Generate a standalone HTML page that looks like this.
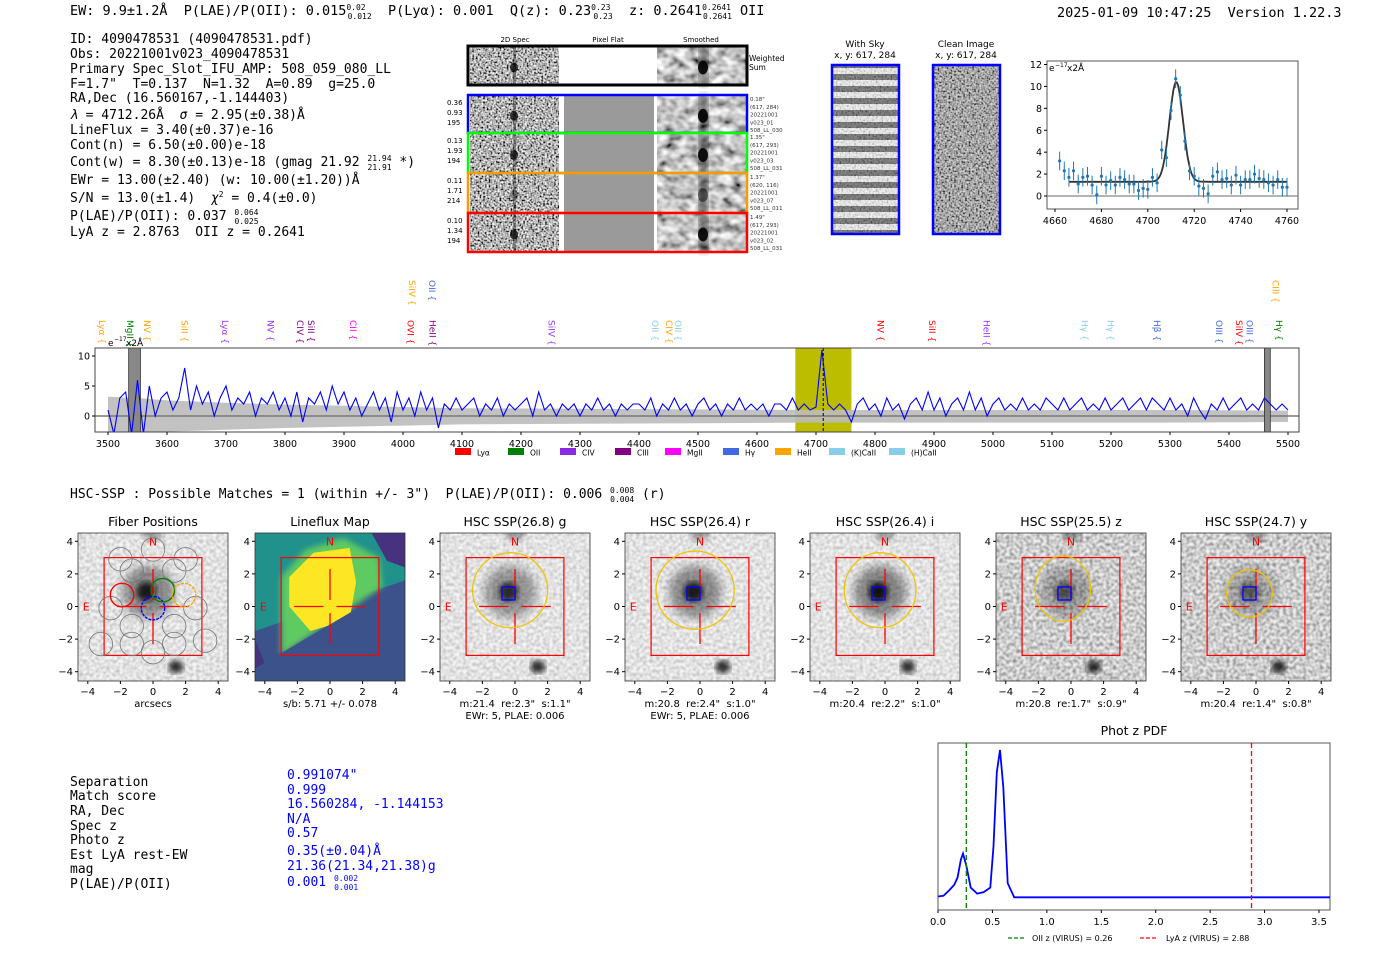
<!DOCTYPE html>
<html><head><meta charset="utf-8">
<style>
html,body{margin:0;padding:0;background:#fff;}
svg{display:block;}
text{font-family:"DejaVu Sans","Liberation Sans",sans-serif;white-space:pre;}
.mono{font-family:"DejaVu Sans Mono","Liberation Mono",monospace;}
</style></head>
<body>
<svg id="fig" width="1400" height="953" viewBox="0 0 1400 953" xmlns="http://www.w3.org/2000/svg" xml:space="preserve">
<defs>
<filter id="noise" x="0" y="0" width="100%" height="100%">
<feTurbulence type="fractalNoise" baseFrequency="0.55" numOctaves="1" seed="3"/>
<feColorMatrix type="matrix" values="2.2 0 0 0 -0.65  2.2 0 0 0 -0.65  2.2 0 0 0 -0.65  0 0 0 0 1"/>
</filter>
<filter id="noiseSoft" x="0" y="0" width="100%" height="100%">
<feTurbulence type="fractalNoise" baseFrequency="0.09 0.12" numOctaves="2" seed="7"/>
<feColorMatrix type="matrix" values="1.6 0 0 0 -0.25  1.6 0 0 0 -0.25  1.6 0 0 0 -0.25  0 0 0 0 1"/>
</filter>
<filter id="noiseLight" x="0" y="0" width="100%" height="100%">
<feTurbulence type="fractalNoise" baseFrequency="0.3" numOctaves="1" seed="11"/>
<feColorMatrix type="matrix" values="0.9 0 0 0 0.35  0.9 0 0 0 0.35  0.9 0 0 0 0.35  0 0 0 0 1"/>
</filter>
<filter id="noiseMid" x="0" y="0" width="100%" height="100%">
<feTurbulence type="fractalNoise" baseFrequency="0.3" numOctaves="1" seed="5"/>
<feColorMatrix type="matrix" values="1.3 0 0 0 0.0  1.3 0 0 0 0.0  1.3 0 0 0 0.0  0 0 0 0 1"/>
</filter>
<filter id="blur2"><feGaussianBlur stdDeviation="3"/></filter>
<filter id="blur4"><feGaussianBlur stdDeviation="5"/></filter>
<pattern id="stripes" width="68" height="12" patternUnits="userSpaceOnUse">
<rect width="68" height="12" fill="#f2f2f2"/><rect y="2" width="68" height="6" fill="#666"/>
</pattern>
</defs>

<g class="mono" font-size="13.5" fill="#000">
<text x="70" y="15" class="mono">EW: 9.9±1.2Å  P(LAE)/P(OII): 0.015<tspan font-size="8" dy="-5">0.02</tspan><tspan font-size="8" dx="-18" dy="9">0.012</tspan><tspan dy="-4">  P(Lyα): 0.001  Q(z): 0.23</tspan><tspan font-size="8" dy="-5">0.23</tspan><tspan font-size="8" dx="-17" dy="9">0.23</tspan><tspan dy="-4">  z: 0.2641</tspan><tspan font-size="8" dy="-5">0.2641</tspan><tspan font-size="8" dx="-28" dy="9">0.2641</tspan><tspan dy="-4"> OII</tspan></text>
<text x="1057" y="17" class="mono">2025-01-09 10:47:25  Version 1.22.3</text>
</g>

<g class="mono" font-size="13" fill="#000">
<text x="70" y="43" class="mono">ID: 4090478531 (4090478531.pdf)</text>
<text x="70" y="58" class="mono">Obs: 20221001v023_4090478531</text>
<text x="70" y="73" class="mono">Primary Spec_Slot_IFU_AMP: 508_059_080_LL</text>
<text x="70" y="88" class="mono">F=1.7"  T=0.137  N=1.32  A=0.89  g=25.0</text>
<text x="70" y="102" class="mono">RA,Dec (16.560167,-1.144403)</text>
<text x="70" y="119" class="mono"><tspan font-style="italic">λ</tspan> = 4712.26Å  <tspan font-style="italic">σ</tspan> = 2.95(±0.38)Å</text>
<text x="70" y="134" class="mono">LineFlux = 3.40(±0.37)e-16</text>
<text x="70" y="149" class="mono">Cont(n) = 6.50(±0.00)e-18</text>
<text x="70" y="166" class="mono">Cont(w) = 8.30(±0.13)e-18 (gmag 21.92 <tspan font-size="8" dy="-5">21.94</tspan><tspan font-size="8" dx="-24" dy="9">21.91</tspan><tspan dy="-4"> *)</tspan></text>
<text x="70" y="184" class="mono">EWr = 13.00(±2.40) (w: 10.00(±1.20))Å</text>
<text x="70" y="202" class="mono">S/N = 13.0(±1.4)  <tspan font-style="italic">χ</tspan><tspan font-size="8" dy="-5">2</tspan><tspan dy="5"> = 0.4(±0.0)</tspan></text>
<text x="70" y="220" class="mono">P(LAE)/P(OII): 0.037 <tspan font-size="8" dy="-5">0.064</tspan><tspan font-size="8" dx="-24" dy="9">0.025</tspan></text>
<text x="70" y="236" class="mono">LyA z = 2.8763  OII z = 0.2641</text>
</g>

<g id="cutouts">
<text x="515" y="42" font-size="7" text-anchor="middle">2D Spec</text>
<text x="608" y="42" font-size="7" text-anchor="middle">Pixel Flat</text>
<text x="701" y="42" font-size="7" text-anchor="middle">Smoothed</text>
</g>

<g>
<text x="865" y="47" font-size="9" text-anchor="middle">With Sky</text>
<text x="865" y="58" font-size="9" text-anchor="middle">x, y: 617, 284</text>
<rect x="832" y="65" width="67" height="169" fill="url(#stripes)"/>
<rect x="832" y="65" width="67" height="169" filter="url(#noise)" opacity="0.25"/>
<rect x="832" y="65" width="67" height="169" fill="none" stroke="#00f" stroke-width="2.5"/>
<text x="966" y="47" font-size="9" text-anchor="middle">Clean Image</text>
<text x="966" y="58" font-size="9" text-anchor="middle">x, y: 617, 284</text>
<rect x="933" y="65" width="67" height="169" filter="url(#noise)"/>
<rect x="933" y="65" width="67" height="169" fill="#888" opacity="0.3"/>
<rect x="933" y="65" width="67" height="169" fill="none" stroke="#00f" stroke-width="2.5"/>
</g>

<g id="inset"></g>
<g id="spectrum"></g>

<text x="70" y="498" class="mono" font-size="13">HSC-SSP : Possible Matches = 1 (within +/- 3")  P(LAE)/P(OII): 0.006 <tspan font-size="8" dy="-5">0.008</tspan><tspan font-size="8" dx="-24" dy="9">0.004</tspan><tspan dy="-4"> (r)</tspan></text>

<g id="panels"></g>

<g class="mono" font-size="13">
<g fill="#000">
<text x="70" y="786" class="mono">Separation</text>
<text x="70" y="800" class="mono">Match score</text>
<text x="70" y="815" class="mono">RA, Dec</text>
<text x="70" y="830" class="mono">Spec z</text>
<text x="70" y="844" class="mono">Photo z</text>
<text x="70" y="859" class="mono">Est LyA rest-EW</text>
<text x="70" y="873" class="mono">mag</text>
<text x="70" y="888" class="mono">P(LAE)/P(OII)</text>
</g>
<g fill="#00f">
<text x="287" y="779" class="mono">0.991074"</text>
<text x="287" y="794" class="mono">0.999</text>
<text x="287" y="808" class="mono">16.560284, -1.144153</text>
<text x="287" y="823" class="mono">N/A</text>
<text x="287" y="837" class="mono">0.57</text>
<text x="287" y="855" class="mono">0.35(±0.04)Å</text>
<text x="287" y="870" class="mono">21.36(21.34,21.38)g</text>
<text x="287" y="886" class="mono">0.001 <tspan font-size="8" dy="-5">0.002</tspan><tspan font-size="8" dx="-24" dy="9">0.001</tspan></text>
</g>
</g>

<g id="pdf"></g>
</svg>

<script>
const specStart = 3500, specStep = 10;
const specFlux = [
1,-3,3,4,-3,6,-3,5,0,3,
4,1,3,8,1,5,2,4,0,3,
5,1,3,2,4,0,3,2,4,1,
3,0,4,-1,3,2,4,1,5,2,
4,1,3,0,2,4,1,3,-1,4,
1,3,0,4,1,3,-2,2,1,3,
1,2,3,0,2,1,3,0,2,1,
2,3,0,4,1,2,0,2,1,2,
0,2,1,3,1,2,0,2,1,2,
2,1,3,0,2,1,3,1,2,0,
2,3,1,2,0,2,1,3,1,2,
1,2,0,2,2,1,3,1,2,1,
1.5,11,2,1,2,1,-1,2,3,1,
2,0,3,1,2,-0.5,2,3,1,4,
1,3,0,2,3,1,4,1,3,0,
2,3,1,2,1,3,1,2,1,3,
2,1,3,1,2,3,1,2,1,3,
1,2,3,1,2,3,1,3,2,1,
3,1,2,0,3,1,-0.5,2,1,3,
1,2,3,1,2,1,3,2,1,2,
1];
const errWave = [3500,3550,3600,3700,3800,3900,4000,4100,4300,4500,4700,5000,5300,5500];
const errHi = [3.2,3.0,2.6,2.2,1.9,1.7,1.5,1.3,1.2,1.1,1.0,1.0,1.0,0.9];
const errLo = [-2.8,-2.8,-2.6,-2.3,-2.0,-1.8,-1.6,-1.4,-1.3,-1.2,-1.1,-1.1,-1.1,-1.0];
const specXTicks = [3500,3600,3700,3800,3900,4000,4100,4200,4300,4400,4500,4600,4700,4800,4900,5000,5100,5200,5300,5400,5500];
const specYTicks = [0,5,10];
const lineNames = ["Lyα","MgII","NV","SiII","Lyα","NV","CIV","SiII","CII","OVI","HeII","SiIV","OII","CIV","OII","NV","SiII","HeII","Hγ","Hγ","Hβ","OIII","SiIV","OIII","Hγ","SiIV","OII","CIII"];
const lineWaves = [3490,3537,3566,3630,3698,3775,3825,3844,3915,4013,4050,4252,4427,4451,4466,4809,4897,4989,5155,5199,5278,5383,5417,5435,5485,4015,4049,5479];
const lineColors = ["orange","green","orange","orange","#9933ff","#9933ff","purple","purple","magenta","red","purple","#9933ff","skyblue","orange","skyblue","red","red","#9933ff","skyblue","skyblue","royalblue","royalblue","red","royalblue","green","orange","royalblue","orange"];
const lineHigh = [0,0,0,0,0,0,0,0,0,0,0,0,0,0,0,0,0,0,0,0,0,0,0,0,0,1,1,1];
const legendNames = ["Lyα","OII","CIV","CIII","MgII","Hγ","HeII","(K)CaII","(H)CaII"];
const legendColors = ["red","green","blueviolet","purple","magenta","royalblue","orange","skyblue","skyblue"];
const insetWave = [];
for (let w = 4662; w <= 4760; w += 2) insetWave.push(w);
const insetFlux = [3.2,2.3,1.7,2.3,1.1,1.7,1.8,1.0,0.1,1.8,1.0,1.4,1.0,1.7,1.5,1.1,1.1,0.5,0.7,0.6,1.7,1.2,4.2,3.5,7.8,10.7,9.2,5.0,2.3,1.8,0.9,0.7,0.2,1.8,2.2,1.5,1.6,1.0,1.9,1.0,1.5,1.5,2.0,1.6,1.5,1.2,1.0,1.5,0.8,0.8];
const insetErr = 0.85;
const fitCont = 1.3, fitAmp = 9.1, fitMu = 4712.26, fitSigma = 2.95;
const insetXTicks = [4660,4680,4700,4720,4740,4760];
const insetYTicks = [0,2,4,6,8,10,12];
const pdfZ = [0,0.05,0.1,0.15,0.18,0.21,0.23,0.26,0.3,0.36,0.42,0.48,0.51,0.54,0.57,0.6,0.64,0.7,1.0,2.0,3.6];
const pdfP = [0.01,0.015,0.05,0.09,0.14,0.26,0.3,0.22,0.07,0.03,0.04,0.07,0.35,0.85,1.0,0.75,0.1,0.005,0.005,0.005,0.005];
const pdfXTicks = [0,0.5,1.0,1.5,2.0,2.5,3.0,3.5];
const zOII = 0.26, zLyA = 2.88;
const panelTitles = ["Fiber Positions","Lineflux Map","HSC SSP(26.8) g","HSC SSP(26.4) r","HSC SSP(26.4) i","HSC SSP(25.5) z","HSC SSP(24.7) y"];
const panelX = [78,255,440,625,810,996,1181];
const panelCap1 = ["arcsecs","s/b: 5.71 +/- 0.078","m:21.4  re:2.3\"  s:1.1\"","m:20.8  re:2.4\"  s:1.0\"","m:20.4  re:2.2\"  s:1.0\"","m:20.8  re:1.7\"  s:0.9\"","m:20.4  re:1.4\"  s:0.8\""];
const panelCap2 = ["","","EWr: 5, PLAE: 0.006","EWr: 5, PLAE: 0.006","","",""];
const ellRx = [0,0,2.3,2.4,2.2,1.7,1.4];
const ellRy = [0,0,2.3,2.4,2.3,2.0,1.45];
const ellCy = [0,0,1.0,1.0,1.0,1.1,0.8];
const ellCx = [0,0,-0.3,-0.3,-0.3,-0.5,-0.4];
const galDark = [0,0,0.7,0.8,0.85,0.5,0.45];
const tickVals = [-4,-2,0,2,4];
const fibX = [0,-1.3,1.3,-2.6,2.6,-1.3,1.3,-3.2,3.2,0,-2,2,-0.6,0.6,-1.9,1.9,-1.3,1.3,0];
const fibY = [-0.1,-2.3,-2.3,-0.1,-0.1,2.2,2.2,-2.3,-2.1,-2.8,2.9,2.9,1.0,1.0,0.7,0.7,-1.2,-1.2,3.5];
const fibCol = ["blue","#777","#777","#777","#777","#777","#777","#777","#777","#777","#777","#777","#777","green","red","orange","#777","#777","#777"];

const NS = "http://www.w3.org/2000/svg";
function el(tag, attrs, parent){ const e=document.createElementNS(NS,tag); for(const k in attrs) e.setAttribute(k,attrs[k]); parent.appendChild(e); return e; }
function txt(s, attrs, parent){ const e=el("text",attrs,parent); e.textContent=s; return e; }

(function(){
  const g=document.getElementById("cutouts");
  const rows=[{y:46,h:39,c:"#000",top:true},{y:95,h:38,c:"#00f"},{y:133,h:40,c:"#0f0"},{y:173,h:40,c:"#f90"},{y:213,h:39,c:"red"}];
  const leftLab=[[],["0.36","0.93","195"],["0.13","1.93","194"],["0.11","1.71","214"],["0.10","1.34","194"]];
  const rightLab=[[],["0.18\"","(617, 284)","20221001","v023_01","508_LL_030"],["1.35\"","(617, 293)","20221001","v023_03","508_LL_031"],["1.37\"","(620, 116)","20221001","v023_07","508_LL_011"],["1.49\"","(617, 293)","20221001","v023_02","508_LL_031"]];
  rows.forEach((r,i)=>{
    const row=el("g",{},g);
    
    
    el("rect",{x:470,y:r.y,width:89,height:r.h,filter:"url(#noise)"},row);
    el("ellipse",{cx:514,cy:r.y+r.h*0.55,rx:4,ry:5,fill:"#000",opacity:i===3?0.3:0.75},row);
    el("rect",{x:513,y:r.y,width:3,height:r.h,fill:"#000",opacity:0.35},row);
    if(!r.top) el("rect",{x:564,y:r.y,width:90,height:r.h,fill:"#9a9a9a"},row);
    el("rect",{x:657,y:r.y,width:89,height:r.h,filter:"url(#noiseSoft)"},row);
    el("rect",{x:699,y:r.y,width:9,height:r.h,fill:"#222",opacity:0.55,filter:"url(#blur2)"},row);
    el("ellipse",{cx:703,cy:r.y+r.h*0.55,rx:5,ry:7,fill:"#000",opacity:i===3?0.5:0.9},row);
    el("rect",{x:468,y:r.y,width:279,height:r.h,fill:"none",stroke:r.c,"stroke-width":r.top?3:2.5},row);
    leftLab[i].forEach((s,k)=>txt(s,{x:447,y:r.y+10+k*10,"font-size":7},row));
    rightLab[i].forEach((s,k)=>txt(s,{x:750,y:r.y+6+k*7.8,"font-size":5.5,fill:"#333"},row));
  });
  txt("Weighted",{x:749,y:61,"font-size":7.5},g);
  txt("Sum",{x:749,y:70,"font-size":7.5},g);
})();

(function(){
  const g=document.getElementById("inset");
  const L=1047,R=1298,T=61,B=209;
  const sx=w=>1055+(w-4660)*(1287-1055)/100;
  const sy=v=>196-v*(196-64.5)/12;
  el("rect",{x:L,y:T,width:R-L,height:B-T,fill:"#fff",stroke:"#555","stroke-width":1},g);
  el("line",{x1:L,x2:R,y1:sy(0),y2:sy(0),stroke:"#888","stroke-width":1.2},g);
  insetXTicks.forEach(t=>{ el("line",{x1:sx(t),x2:sx(t),y1:B,y2:B+3,stroke:"#000"},g); txt(String(t),{x:sx(t),y:B+15,"font-size":9.5,"text-anchor":"middle"},g); });
  insetYTicks.forEach(t=>{ el("line",{x1:L-3,x2:L,y1:sy(t),y2:sy(t),stroke:"#000"},g); txt(String(t),{x:L-5,y:sy(t)+3.5,"font-size":9.5,"text-anchor":"end"},g); });
  txt("e",{x:L+2,y:T+10,"font-size":9},g);
  txt("−17",{x:L+8,y:T+6,"font-size":6},g);
  txt("x2Å",{x:L+20,y:T+10,"font-size":9},g);
  let d="";
  for(let w=4666;w<=4760;w+=0.5){ const v=fitCont+fitAmp*Math.exp(-0.5*Math.pow((w-fitMu)/fitSigma,2)); d+=(d?"L":"M")+sx(w).toFixed(1)+","+sy(v).toFixed(1); }
  const fit=el("path",{d:d,fill:"none",stroke:"#333","stroke-width":1.8},g);
  
  
  insetWave.forEach((w,i)=>{
    const v=insetFlux[i];
    const eb=el("line",{x1:sx(w),x2:sx(w),y1:sy(v-insetErr),y2:sy(v+insetErr),stroke:"#1f77b4","stroke-width":1},g);
    
    
    const p=el("circle",{cx:sx(w),cy:sy(v),r:1.6,fill:"#1f77b4"},g);
    
    
  });
})();

(function(){
  const g=document.getElementById("spectrum");
  const L=95,R=1299,T=348,B=432;
  const sx=w=>108+(w-3500)*0.59;
  const sy=v=>416-v*6;
  el("rect",{x:L,y:T,width:R-L,height:B-T,fill:"#fff"},g);
  const band=el("rect",{x:sx(4665),y:T,width:sx(4760)-sx(4665),height:B-T,fill:"#bcbc00"},g);
  
  
  let top="",bot="";
  errWave.forEach((w,i)=>{ top+=(i?"L":"M")+sx(w)+","+Math.min(B,sy(errHi[i])); });
  for(let i=errWave.length-1;i>=0;i--) bot+="L"+sx(errWave[i])+","+Math.min(B,sy(errLo[i]));
  const env=el("path",{d:top+bot+"Z",fill:"#bbb",opacity:0.9},g);
  
  
  el("line",{x1:L,x2:R,y1:sy(0),y2:sy(0),stroke:"#777","stroke-width":1.5},g);
  [[3535,3555],[5460,5470]].forEach(m=>{ const r=el("rect",{x:sx(m[0]),y:T,width:sx(m[1])-sx(m[0]),height:B-T,fill:"#888",stroke:"#333","stroke-width":0.8},g);   });
  const cp=el("clipPath",{id:"specclip"},g); el("rect",{x:L,y:T,width:R-L,height:B-T},cp);
  let d="";
  specFlux.forEach((v,i)=>{ const w=specStart+i*specStep; d+=(i?"L":"M")+sx(w).toFixed(1)+","+sy(v).toFixed(1); });
  const ln=el("path",{d:d,fill:"none",stroke:"#0000ff","stroke-width":1.1,"clip-path":"url(#specclip)"},g);
  
  
  el("line",{x1:sx(4712.26),x2:sx(4712.26),y1:T,y2:B,stroke:"#000","stroke-width":1,"stroke-dasharray":"3,2"},g);
  el("rect",{x:L,y:T,width:R-L,height:B-T,fill:"none",stroke:"#444","stroke-width":1},g);
  specXTicks.forEach(t=>{ el("line",{x1:sx(t),x2:sx(t),y1:B,y2:B+3,stroke:"#000"},g); txt(String(t),{x:sx(t),y:B+15,"font-size":9.5,"text-anchor":"middle"},g); });
  specYTicks.forEach(t=>{ el("line",{x1:L-3,x2:L,y1:sy(t),y2:sy(t),stroke:"#000"},g); txt(String(t),{x:L-5,y:sy(t)+3.5,"font-size":9.5,"text-anchor":"end"},g); });
  txt("e",{x:108,y:346,"font-size":9},g); txt("−17",{x:114,y:341,"font-size":6},g); txt("x2Å",{x:126,y:346,"font-size":9},g);
  lineNames.forEach((n,i)=>{
    const x=sx(lineWaves[i]); const y0=lineHigh[i]?280:320;
    const t=txt(n+" {",{x:0,y:0,"font-size":9,fill:lineColors[i],transform:"translate("+(x-3)+","+y0+") rotate(90)"},g);
    
    
  });
  const lx=[455,508,560,615,665,723,775,829,889];
  legendNames.forEach((n,i)=>{
    const r=el("rect",{x:lx[i],y:448,width:16,height:7,fill:legendColors[i]},g);
    
    
    txt(n,{x:lx[i]+22,y:455.5,"font-size":7.5},g);
  });
})();

(function(){
  const g=document.getElementById("panels");
  const T=533,H=148,W=150;
  panelX.forEach((x0,i)=>{
    const pg=el("g",{},g);
    
    
    const cx=x0+75, cy=606.5, k=16.3;
    const sx=v=>cx+v*k, sy=v=>cy-v*k;
    txt(panelTitles[i],{x:cx,y:526,"font-size":12.5,"text-anchor":"middle"},pg);
    const cp=el("clipPath",{id:"pc"+i},pg); el("rect",{x:x0,y:T,width:W,height:H},cp);
    const ig=el("g",{"clip-path":"url(#pc"+i+")"},pg);
    if(i===1){
      el("rect",{x:x0,y:T,width:W,height:H,fill:"#3b528b"},ig);
      el("polygon",{points:[[sx(-4.6),sy(-1.5)],[sx(-4.6),sy(4.6)],[sx(4.6),sy(4.6)],[sx(4.6),sy(1.6)]].join(" "),fill:"#21918c"},ig);
      el("polygon",{points:[[sx(-4.6),sy(-2)],[sx(-4.6),sy(-4)],[sx(-3.8),sy(-4)]].join(" "),fill:"#46327e"},ig);
      el("polygon",{points:[[sx(2.5),sy(4.6)],[sx(4.6),sy(4.6)],[sx(4.6),sy(2.4)],[sx(3.5),sy(2.8)]].join(" "),fill:"#46327e"},ig);
      el("polygon",{points:[[sx(-3),sy(0.2)],[sx(-3),sy(1.8)],[sx(-1.5),sy(3.5)],[sx(0.8),sy(4.2)],[sx(3),sy(3)],[sx(3.2),sy(1.2)],[sx(-3),sy(-3)]].join(" "),fill:"#5ec962",filter:"url(#blur2)"},ig);
      el("polygon",{points:[[sx(-2.5),sy(1.8)],[sx(-1),sy(3.3)],[sx(1.2),sy(3.6)],[sx(1.6),sy(1.5)],[sx(1.2),sy(-0.8)],[sx(-1.2),sy(-1.5)],[sx(-2.5),sy(0)]].join(" "),fill:"#fde725"},ig);
      el("polygon",{points:[[sx(-4.6),sy(-4.6)],[sx(-4.6),sy(-3.8)],[sx(4.6),sy(1.6)],[sx(4.6),sy(-4.6)]].join(" "),fill:"#3b528b"},ig);
    } else {
      const dark = i>=5;
      el("rect",{x:x0,y:T,width:W,height:H,fill:dark?"#999":"#d0d0d0"},ig);
      el("rect",{x:x0,y:T,width:W,height:H,filter:dark?"url(#noiseMid)":"url(#noiseLight)",opacity:dark?0.9:0.8},ig);
      const gd=i===0?0.8:galDark[i];
      el("ellipse",{cx:sx(-0.3),cy:sy(0.9),rx:k*1.6,ry:k*1.6,fill:"#000",opacity:gd*0.5,filter:"url(#blur4)"},ig);
      el("ellipse",{cx:sx(-0.4),cy:sy(0.9),rx:k*0.6,ry:k*0.6,fill:"#000",opacity:gd,filter:"url(#blur2)"},ig);
      el("ellipse",{cx:sx(1.4),cy:sy(-3.7),rx:k*0.45,ry:k*0.4,fill:"#000",opacity:0.8,filter:"url(#blur2)"},ig);
      el("ellipse",{cx:sx(0),cy:sy(4.4),rx:k*0.6,ry:k*0.4,fill:"#000",opacity:0.3,filter:"url(#blur2)"},ig);
    }
    el("rect",{x:sx(-3),y:sy(3),width:6*k,height:6*k,fill:"none",stroke:"red","stroke-width":1.2},pg);
    [[-2.2,0,-0.4,0],[0.4,0,2.2,0],[0,2.3,0,0.4],[0,-0.4,0,-2.3]].forEach(s=>el("line",{x1:sx(s[0]),y1:sy(s[1]),x2:sx(s[2]),y2:sy(s[3]),stroke:"red","stroke-width":1.3},pg));
    txt("N",{x:sx(0),y:sy(4)+4,"font-size":11,fill:"red","text-anchor":"middle"},pg);
    txt("E",{x:sx(-4.1),y:sy(0)+4,"font-size":11,fill:"red","text-anchor":"middle"},pg);
    if(i===0){
      fibX.forEach((fx,j)=>{
        const c=el("circle",{cx:sx(fx),cy:sy(fibY[j]),r:k*0.72,fill:"none",stroke:fibCol[j],"stroke-width":fibCol[j]==="#777"?0.8:1.4,"stroke-dasharray":fibCol[j]==="blue"||fibCol[j]==="orange"?"3,1":"none"},pg);
        
        
      });
    }
    if(i>=2){
      const e=el("ellipse",{cx:sx(ellCx[i]),cy:sy(ellCy[i]),rx:ellRx[i]*k,ry:ellRy[i]*k,fill:"none",stroke:"#f0c400","stroke-width":1.3},pg);
      
      
      el("rect",{x:sx(-0.8),y:sy(1.2),width:0.8*k,height:0.8*k,fill:"none",stroke:"#00f","stroke-width":1.3},pg);
    }
    el("rect",{x:x0,y:T,width:W,height:H,fill:"none",stroke:"#333","stroke-width":0.8},pg);
    tickVals.forEach(t=>{
      el("line",{x1:sx(t),x2:sx(t),y1:T+H,y2:T+H+3,stroke:"#000"},pg);
      txt(String(t).replace("-","−"),{x:sx(t),y:T+H+14,"font-size":10,"text-anchor":"middle"},pg);
      el("line",{x1:x0-3,x2:x0,y1:sy(t),y2:sy(t),stroke:"#000"},pg);
      txt(String(t).replace("-","−"),{x:x0-5,y:sy(t)+3.5,"font-size":10,"text-anchor":"end"},pg);
    });
    txt(panelCap1[i],{x:cx,y:707,"font-size":10,"text-anchor":"middle"},pg);
    if(panelCap2[i]) txt(panelCap2[i],{x:cx,y:719,"font-size":10,"text-anchor":"middle"},pg);
  });
})();

(function(){
  const g=document.getElementById("pdf");
  const L=938,R=1330,T=743,B=910;
  const sx=z=>938+z*(1319-938)/3.5;
  const sy=p=>898-p*(898-750);
  txt("Phot z PDF",{x:(L+R)/2,y:735,"font-size":12.5,"text-anchor":"middle"},g);
  el("rect",{x:L,y:T,width:R-L,height:B-T,fill:"#fff",stroke:"#555","stroke-width":1},g);
  let d="";
  pdfZ.forEach((z,i)=>{ d+=(i?"L":"M")+sx(z).toFixed(1)+","+sy(pdfP[i]).toFixed(1); });
  const c=el("path",{d:d,fill:"none",stroke:"#0000ff","stroke-width":1.8},g);
  
  
  const l1=el("line",{x1:sx(zOII),x2:sx(zOII),y1:T,y2:B,stroke:"green","stroke-width":1.3,"stroke-dasharray":"5,3"},g);
  
  
  const l2=el("line",{x1:sx(zLyA),x2:sx(zLyA),y1:T,y2:B,stroke:"red","stroke-width":1.3,"stroke-dasharray":"5,3"},g);
  
  
  pdfXTicks.forEach(t=>{ el("line",{x1:sx(t),x2:sx(t),y1:B,y2:B+3,stroke:"#000"},g); txt(t.toFixed(1),{x:sx(t),y:B+15,"font-size":10,"text-anchor":"middle"},g); });
  el("line",{x1:1008,x2:1026,y1:938,y2:938,stroke:"green","stroke-width":1.3,"stroke-dasharray":"4,2"},g);
  txt("OII z (VIRUS) = 0.26",{x:1032,y:941,"font-size":8},g);
  el("line",{x1:1140,x2:1158,y1:938,y2:938,stroke:"red","stroke-width":1.3,"stroke-dasharray":"4,2"},g);
  txt("LyA z (VIRUS) = 2.88",{x:1166,y:941,"font-size":8},g);
})();
</script>
</body></html>
